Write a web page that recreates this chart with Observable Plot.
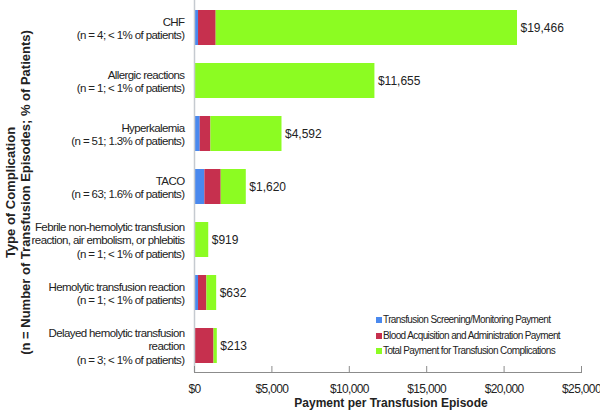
<!DOCTYPE html>
<html><head><meta charset="utf-8">
<script src="https://cdn.jsdelivr.net/npm/d3@7"></script>
<script src="https://cdn.jsdelivr.net/npm/@observablehq/plot@0.6"></script>
<style>
html,body{margin:0;padding:0;background:#fff;}
#wrap{position:relative;width:600px;height:415px;}
#legend{position:absolute;left:376px;top:312px;font-size:10px;font-family:"Liberation Sans",Arial,sans-serif;letter-spacing:-0.6px;color:#222;line-height:15.5px;white-space:nowrap;}
#legend .sw{display:inline-block;width:6px;height:6px;margin-right:1px;vertical-align:0px;}
g[aria-label="y-axis tick label"]{letter-spacing:-0.6px;}
g[aria-label="x-axis tick label"]{letter-spacing:-0.65px;}
g[aria-label="value label"]{letter-spacing:-0.65px;}
g[aria-label="x title"]{letter-spacing:-0.2px;}
</style></head><body><div id="wrap"></div>
<script>
const categories = ["CHF","Allergic reactions","Hyperkalemia","TACO","Febrile non-hemolytic transfusion\nreaction, air embolism, or phlebitis","Hemolytic transfusion reaction","Delayed hemolytic transfusion\nreaction"];
const counts = ["(n = 4; < 1% of patients)","(n = 1; < 1% of patients)","(n = 51; 1.3% of patients)","(n = 63; 1.6% of patients)","(n = 1; < 1% of patients)","(n = 1; < 1% of patients)","(n = 3; < 1% of patients)"];
const series = ["Transfusion Screening/Monitoring Payment","Blood Acquisition and Administration Payment","Total Payment for Transfusion Complications"];
const screening = [260, 0, 370, 670, 0, 260, 0];
const acquisition = [1140, 0, 690, 1055, 0, 540, 1260];
const complications = [19466, 11655, 4592, 1620, 919, 632, 213];
const colors = ["#4a89ee","#c6304e","#8cfc22"];
const xTicks = [0, 5000, 10000, 15000, 20000, 25000];
const xTitle = "Payment per Transfusion Episode";
const yTitle = "Type of Complication\n(n = Number of Transfusion Episodes; % of Patients)";

const fmt = d3.format("$,");
const valuesBySeries = [screening, acquisition, complications];
const data = categories.flatMap((c, i) => series.map((s, j) => ({category: c, series: s, value: valuesBySeries[j][i]})));
const totals = categories.map((c, i) => ({category: c, total: screening[i] + acquisition[i] + complications[i], label: fmt(complications[i])}));
const labelOf = new Map(categories.map((c, i) => [c, c + "\n" + counts[i]]));

const sans = '"Liberation Sans",Arial,sans-serif';
const chart = Plot.plot({
  width: 600, height: 415, marginLeft: 194, marginRight: 19, marginTop: 0, marginBottom: 43,
  style: {fontFamily: sans, fontSize: "12px", color: "#222", background: "#fff"},
  x: {domain: [0, 25000]},
  y: {domain: categories, paddingInner: 0.342, paddingOuter: 0.17},
  color: {domain: series, range: colors},
  marks: [
    Plot.barX(data, {x: "value", y: "category", fill: "series"}),
    Plot.ruleX([0], {stroke: "#c5cad0", strokeWidth: 1.5}),
    Plot.frame({anchor: "bottom", stroke: "#8c8c8c"}),
    Plot.axisX({ticks: xTicks, tickFormat: fmt, tickSize: -6, tickPadding: 18, fontSize: 12, stroke: "#8c8c8c", label: null}),
    Plot.axisY({tickSize: 0, tickPadding: 10, tickFormat: d => labelOf.get(d), lineHeight: 1.2, fontSize: 11.5, label: null}),
    Plot.text(totals, {x: "total", y: "category", text: "label", textAnchor: "start", dx: 3, fontSize: 12, ariaLabel: "value label"}),
    Plot.text([xTitle], {frameAnchor: "bottom", dy: 34, dx: 3, fontWeight: "bold", fontSize: 12, ariaLabel: "x title"}),
    Plot.text([yTitle], {frameAnchor: "left", textAnchor: "middle", rotate: -90, dx: -177, dy: 6, fontWeight: "bold", fontSize: 13, lineHeight: 1.15, ariaLabel: "y title"})
  ]
});
const wrap = document.getElementById("wrap");
wrap.appendChild(chart);
const legend = d3.select(wrap).append("div").attr("id", "legend");
series.forEach((s, j) => {
  const row = legend.append("div");
  row.append("span").attr("class", "sw").style("background", colors[j]);
  row.append("span").text(s);
});
</script></body></html>
